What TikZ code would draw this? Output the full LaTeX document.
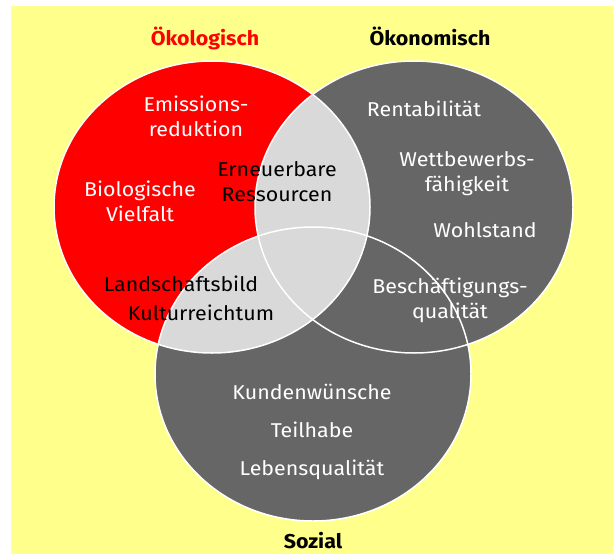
\documentclass[tikz,border=0pt]{standalone}
\usepackage{fontspec}
\setmainfont{Fira Sans}[FakeStretch=1.07]
\usepackage{tikz}
\usetikzlibrary{positioning}
\definecolor{bgyellow}{RGB}{255,255,140}
\definecolor{okored}{RGB}{255,0,0}
\definecolor{darkgrey}{RGB}{102,102,102}
\definecolor{lensgrey}{RGB}{217,217,217}
\newcommand{\okoring}{(212,207) ellipse [x radius=158, y radius=146]}
\newcommand{\ekoring}{(414,207) ellipse [x radius=159, y radius=146]}
\newcommand{\sozring}{(313,374) ellipse [x radius=158, y radius=147]}

\begin{document}
\begin{tikzpicture}[x=1pt, y=-1pt, font=\fontsize{20}{25}\selectfont,
    heading/.style={font=\fontsize{20}{24}\selectfont\bfseries, anchor=base, inner sep=0pt},
    term/.style={align=center, text=white, anchor=base, inner sep=0pt},
    shared/.style={align=center, text=black, anchor=base, inner sep=0pt},
    ring/.style={draw=white, line width=1.5pt}]
  \useasboundingbox (0,0) rectangle (613,554);
  \fill[bgyellow] (11,6) rectangle (613,554);
  \fill[okored] \okoring;
  \fill[darkgrey] \ekoring;
  \fill[darkgrey] \sozring;
  \begin{scope}
    \clip \okoring;
    \fill[lensgrey] \ekoring;
    \fill[lensgrey] \sozring;
  \end{scope}
  \draw[ring] \okoring;
  \draw[ring] \ekoring;
  \draw[ring] \sozring;
  \node[heading, text=okored] (okotitle) at (205,45) {Ökologisch};
  \node[heading] (ekotitle) at (430,45) {Ökonomisch};
  \node[heading] (soztitle) at (313,548) {Sozial};
  \node[term] (emission) at (196,136) {Emissions-\\reduktion};
  \node[term] (vielfalt) at (140,221) {Biologische\\Vielfalt};
  \node[shared] (ressource) at (277,201) {Erneuerbare\\Ressourcen};
  \node[term] (rentabel) at (424,116) {Rentabilität};
  \node[term] (wettbewerb) at (467,191) {Wettbewerbs-\\fähigkeit};
  \node[term] (wohlstand) at (485,237) {Wohlstand};
  \node[shared] (landschaft) at (181,291) {Landschaftsbild};
  \node[shared] (kultur) at (201,320) {Kulturreichtum};
  \node[term] (beschaeft) at (450,318) {Beschäftigungs-\\qualität};
  \node[term] (kunden) at (312,399) {Kundenwünsche};
  \node[term] (teilhabe) at (312,437) {Teilhabe};
  \node[term] (lebensq) at (312,475) {Lebensqualität};
\end{tikzpicture}
\end{document}
